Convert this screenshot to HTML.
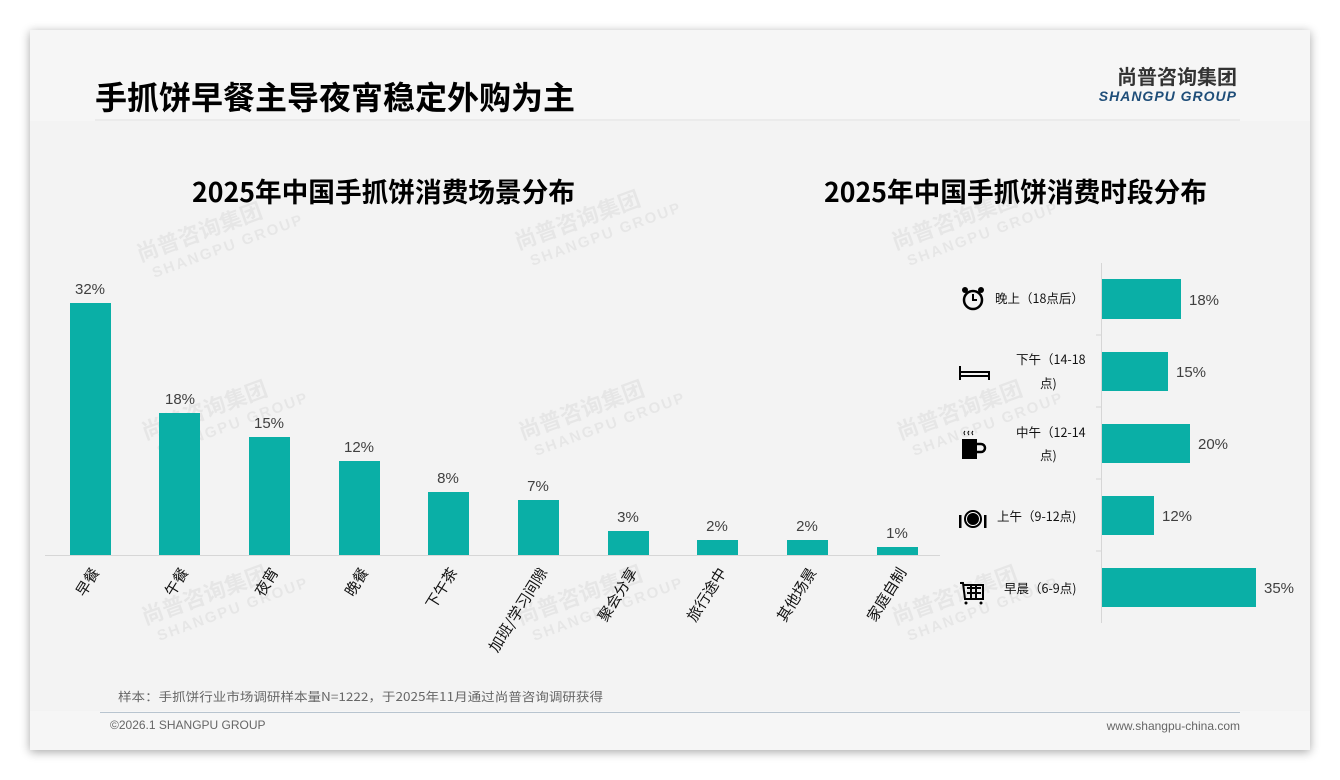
<!DOCTYPE html>
<html><head><meta charset="utf-8"><style>
html,body{margin:0;padding:0;background:#fff;}
svg{display:block;font-family:"Liberation Sans","Noto Sans CJK SC",sans-serif;}
</style></head><body>
<svg width="1340" height="780" viewBox="0 0 1340 780" xmlns="http://www.w3.org/2000/svg">
<defs><filter id="sh" x="-5%" y="-5%" width="110%" height="110%"><feGaussianBlur stdDeviation="5"/></filter></defs>
<rect x="30" y="32" width="1280" height="720" fill="#000" opacity="0.35" filter="url(#sh)"/>
<rect x="30" y="30" width="1280" height="720" fill="#f6f6f6"/>
<rect x="30" y="121" width="1280" height="590" fill="#f3f3f3"/>
<line x1="95" y1="120" x2="1240" y2="120" stroke="#e0e0e0" stroke-width="1"/>
<text x="95" y="109" font-size="32" font-weight="bold" fill="#000" textLength="480" lengthAdjust="spacingAndGlyphs" font-family="'Noto Sans CJK SC',sans-serif">手抓饼早餐主导夜宵稳定外购为主</text>
<text x="1237" y="84" font-size="20" font-weight="bold" fill="#333" text-anchor="end" font-family="'Noto Sans CJK SC',sans-serif">尚普咨询集团</text>
<text x="1237" y="101" font-size="14" font-weight="bold" font-style="italic" fill="#1f4e79" text-anchor="end" letter-spacing="1">SHANGPU GROUP</text>

<g fill="#000" fill-opacity="0.05" font-weight="bold">
<g transform="translate(140,262) rotate(-20)"><text font-size="22" font-family="'Noto Sans CJK SC',sans-serif">尚普咨询集团</text><text y="20" x="8" font-size="15" letter-spacing="2">SHANGPU GROUP</text></g>
<g transform="translate(518,250) rotate(-20)"><text font-size="22" font-family="'Noto Sans CJK SC',sans-serif">尚普咨询集团</text><text y="20" x="8" font-size="15" letter-spacing="2">SHANGPU GROUP</text></g>
<g transform="translate(895,250) rotate(-20)"><text font-size="22" font-family="'Noto Sans CJK SC',sans-serif">尚普咨询集团</text><text y="20" x="8" font-size="15" letter-spacing="2">SHANGPU GROUP</text></g>
<g transform="translate(145,440) rotate(-20)"><text font-size="22" font-family="'Noto Sans CJK SC',sans-serif">尚普咨询集团</text><text y="20" x="8" font-size="15" letter-spacing="2">SHANGPU GROUP</text></g>
<g transform="translate(522,440) rotate(-20)"><text font-size="22" font-family="'Noto Sans CJK SC',sans-serif">尚普咨询集团</text><text y="20" x="8" font-size="15" letter-spacing="2">SHANGPU GROUP</text></g>
<g transform="translate(900,440) rotate(-20)"><text font-size="22" font-family="'Noto Sans CJK SC',sans-serif">尚普咨询集团</text><text y="20" x="8" font-size="15" letter-spacing="2">SHANGPU GROUP</text></g>
<g transform="translate(145,625) rotate(-20)"><text font-size="22" font-family="'Noto Sans CJK SC',sans-serif">尚普咨询集团</text><text y="20" x="8" font-size="15" letter-spacing="2">SHANGPU GROUP</text></g>
<g transform="translate(520,625) rotate(-20)"><text font-size="22" font-family="'Noto Sans CJK SC',sans-serif">尚普咨询集团</text><text y="20" x="8" font-size="15" letter-spacing="2">SHANGPU GROUP</text></g>
<g transform="translate(895,625) rotate(-20)"><text font-size="22" font-family="'Noto Sans CJK SC',sans-serif">尚普咨询集团</text><text y="20" x="8" font-size="15" letter-spacing="2">SHANGPU GROUP</text></g>
</g>

<text x="192" y="202" font-size="27" font-weight="bold" fill="#000" textLength="383" lengthAdjust="spacingAndGlyphs" font-family="'Noto Sans CJK SC',sans-serif">2025年中国手抓饼消费场景分布</text>
<text x="824" y="202" font-size="27" font-weight="bold" fill="#000" textLength="383" lengthAdjust="spacingAndGlyphs" font-family="'Noto Sans CJK SC',sans-serif">2025年中国手抓饼消费时段分布</text>

<line x1="45" y1="555.5" x2="940" y2="555.5" stroke="#d6d6d6"/>
<g fill="#0aafa6">
<rect x="70" y="303" width="41" height="252"/>
<rect x="159" y="413" width="41" height="142"/>
<rect x="249" y="437" width="41" height="118"/>
<rect x="339" y="461" width="41" height="94"/>
<rect x="428" y="492" width="41" height="63"/>
<rect x="518" y="500" width="41" height="55"/>
<rect x="608" y="531" width="41" height="24"/>
<rect x="697" y="540" width="41" height="15"/>
<rect x="787" y="540" width="41" height="15"/>
<rect x="877" y="547" width="41" height="8"/>
</g>
<g font-size="15" fill="#404040" text-anchor="middle">
<text x="90" y="294">32%</text><text x="180" y="404">18%</text><text x="269" y="428">15%</text>
<text x="359" y="452">12%</text><text x="448" y="483">8%</text><text x="538" y="491">7%</text>
<text x="628" y="522">3%</text><text x="717" y="531">2%</text><text x="807" y="531">2%</text><text x="897" y="538">1%</text>
</g>
<g font-size="15" fill="#111" text-anchor="end" font-family="'Noto Sans CJK SC',sans-serif">
<text transform="translate(100,572) rotate(-58)">早餐</text>
<text transform="translate(189,572) rotate(-58)">午餐</text>
<text transform="translate(279,572) rotate(-58)">夜宵</text>
<text transform="translate(369,572) rotate(-58)">晚餐</text>
<text transform="translate(458,572) rotate(-58)">下午茶</text>
<text transform="translate(548,572) rotate(-58)">加班/学习间隙</text>
<text transform="translate(638,572) rotate(-58)">聚会分享</text>
<text transform="translate(727,572) rotate(-58)">旅行途中</text>
<text transform="translate(817,572) rotate(-58)">其他场景</text>
<text transform="translate(907,572) rotate(-58)">家庭自制</text>
</g>

<line x1="1101.5" y1="263" x2="1101.5" y2="623" stroke="#d6d6d6"/>
<g stroke="#d6d6d6"><line x1="1096" y1="335" x2="1101" y2="335"/><line x1="1096" y1="407" x2="1101" y2="407"/><line x1="1096" y1="479" x2="1101" y2="479"/><line x1="1096" y1="551" x2="1101" y2="551"/></g>
<g fill="#0aafa6">
<rect x="1102" y="279" width="79" height="40"/>
<rect x="1102" y="352" width="66" height="39"/>
<rect x="1102" y="424" width="88" height="39"/>
<rect x="1102" y="496" width="52" height="39"/>
<rect x="1102" y="568" width="154" height="39"/>
</g>
<g font-size="15" fill="#404040">
<text x="1189" y="305">18%</text><text x="1176" y="377">15%</text><text x="1198" y="449">20%</text>
<text x="1162" y="521">12%</text><text x="1264" y="593">35%</text>
</g>
<g font-size="12.5" fill="#111" font-family="'Noto Sans CJK SC',sans-serif">
<text x="995" y="303">晚上（18点后）</text>
<text x="1016" y="364">下午（14-18</text><text x="1040" y="388">点)</text>
<text x="1016" y="437">中午（12-14</text><text x="1040" y="460">点)</text>
<text x="997" y="521">上午（9-12点)</text>
<text x="1004" y="593">早晨（6-9点)</text>
</g>
<g fill="none" stroke="#000" stroke-width="2.5">
<circle cx="973" cy="300" r="9"/><path d="M973 294v6h4" stroke-width="2"/>
</g>
<g fill="#000"><circle cx="965" cy="290" r="3"/><circle cx="981" cy="290" r="3"/></g>
<g stroke="#000" stroke-width="2" fill="none"><path d="M960 366v14M960 376h29M989 371v9M960 372h29"/></g>
<g fill="#000"><rect x="962" y="439" width="15" height="20"/></g>
<path d="M977 444h4a4 4 0 0 1 0 8h-4" stroke="#000" stroke-width="2.5" fill="none"/>
<g stroke="#000" stroke-width="1" fill="none"><path d="M965 435q-2-2 0-4M969 435q-2-2 0-4M973 435q-2-2 0-4"/></g>
<circle cx="973" cy="519" r="8" fill="#fff" stroke="#000" stroke-width="2"/><circle cx="973" cy="519" r="6" fill="#000"/>
<rect x="959" y="515" width="2.5" height="13" fill="#000"/><rect x="984" y="515" width="2.5" height="13" fill="#000"/>
<g stroke="#000" stroke-width="2" fill="none"><path d="M960 583h3l2 16h18v-14h-20M967 588h14M967 593h14M971 585v13M976 585v13"/></g>
<circle cx="966" cy="603" r="1.5" fill="#000"/><circle cx="981" cy="603" r="1.5" fill="#000"/>

<text x="118" y="701" font-size="12" fill="#666" textLength="485" lengthAdjust="spacingAndGlyphs" font-family="'Noto Sans CJK SC',sans-serif">样本：手抓饼行业市场调研样本量N=1222，于2025年11月通过尚普咨询调研获得</text>
<line x1="100" y1="712.5" x2="1240" y2="712.5" stroke="#b8c4cf"/>
<text x="110" y="729" font-size="12" fill="#666">©2026.1 SHANGPU GROUP</text>
<text x="1240" y="730" font-size="12" fill="#666" text-anchor="end">www.shangpu-china.com</text>
</svg>
</body></html>
